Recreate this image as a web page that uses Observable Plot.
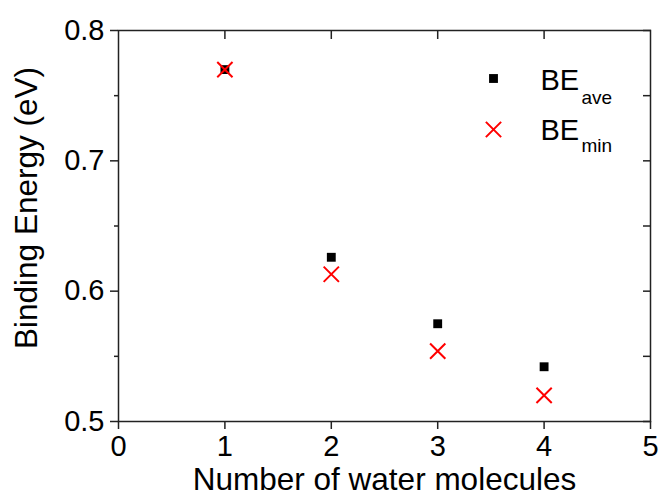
<!DOCTYPE html>
<html>
<head>
<meta charset="utf-8">
<script src="https://cdn.jsdelivr.net/npm/d3@7"></script>
<script src="https://cdn.jsdelivr.net/npm/@observablehq/plot@0.6"></script>
<style>
  html, body { margin: 0; padding: 0; background: #fff; }
  svg { font-family: "Liberation Sans", Arial, sans-serif; }
</style>
</head>
<body>
<div id="chart"></div>
<script>
const molecules = [1, 2, 3, 4];
const beAve = [0.770, 0.626, 0.575, 0.542];
const beMin = [0.770, 0.613, 0.554, 0.520];
const xTicks = [0, 1, 2, 3, 4, 5];
const yMajor = [0.5, 0.6, 0.7, 0.8];
const yMinor = [0.55, 0.65, 0.75];
const yRight = [0.5, 0.55, 0.6, 0.65, 0.7, 0.75, 0.8];
const xTop = [1, 2, 3, 4];
const xTitle = "Number of water molecules";
const yTitle = "Binding Energy (eV)";
const legendMain = ["BE", "BE"];
const legendSub = ["ave", "min"];

const aveData = molecules.map((m, i) => ({x: m, y: beAve[i]}));
const minData = molecules.map((m, i) => ({x: m, y: beMin[i]}));
const axisColor = "#222";

const chart = Plot.plot({
  width: 661,
  height: 495,
  marginLeft: 118,
  marginRight: 11,
  marginTop: 30,
  marginBottom: 74,
  style: {fontFamily: '"Liberation Sans", Arial, sans-serif', color: "#000", background: "#fff", overflow: "visible"},
  x: {domain: [0, 5]},
  y: {domain: [0.5, 0.8]},
  marks: [
    Plot.frame({stroke: axisColor, strokeWidth: 1.5}),
    Plot.axisX({ticks: xTicks, tickSize: 8, tickPadding: 6, fontSize: 29, tickFormat: d => String(d), stroke: axisColor, strokeWidth: 1.5, label: null, fill: "#000"}),
    Plot.axisX({anchor: "top", ticks: xTop, tickSize: -8, text: null, stroke: axisColor, strokeWidth: 1.5, label: null}),
    Plot.axisY({ticks: yMajor, tickSize: 8, tickPadding: 6, fontSize: 29, tickFormat: d => d.toFixed(1), stroke: axisColor, strokeWidth: 1.5, label: null, fill: "#000"}),
    Plot.axisY({ticks: yMinor, tickSize: 4, text: null, stroke: axisColor, strokeWidth: 1.5, label: null}),
    Plot.axisY({anchor: "right", ticks: yRight, tickSize: -8, text: null, stroke: axisColor, strokeWidth: 1.5, label: null}),
    Plot.text([xTitle], {frameAnchor: "bottom", dy: 68, textAnchor: "middle", lineAnchor: "bottom", fontSize: 31.5, fill: "#000"}),
    Plot.text([yTitle], {frameAnchor: "left", dx: -82, dy: -18, rotate: -90, textAnchor: "middle", lineAnchor: "bottom", fontSize: 31.5, fill: "#000"}),
    Plot.dot(aveData, {x: "x", y: "y", symbol: "square", r: 5, fill: "#000", stroke: null}),
    Plot.dot(minData, {x: "x", y: "y", symbol: "times", r: 7, stroke: "#ff0000", strokeWidth: 2}),
    // legend
    Plot.dot([0], {frameAnchor: "top-left", dx: 375, dy: 48, symbol: "square", r: 5, fill: "#000", stroke: null}),
    Plot.dot([0], {frameAnchor: "top-left", dx: 375, dy: 99, symbol: "times", r: 7, stroke: "#ff0000", strokeWidth: 2}),
    Plot.text([legendMain[0]], {frameAnchor: "top-left", dx: 422, dy: 59, textAnchor: "start", lineAnchor: "bottom", fontSize: 29, fill: "#000"}),
    Plot.text([legendSub[0]], {frameAnchor: "top-left", dx: 463, dy: 73, textAnchor: "start", lineAnchor: "bottom", fontSize: 19, fill: "#000"}),
    Plot.text([legendMain[1]], {frameAnchor: "top-left", dx: 422, dy: 109, textAnchor: "start", lineAnchor: "bottom", fontSize: 29, fill: "#000"}),
    Plot.text([legendSub[1]], {frameAnchor: "top-left", dx: 463, dy: 121, textAnchor: "start", lineAnchor: "bottom", fontSize: 19, fill: "#000"})
  ]
});
document.getElementById("chart").appendChild(chart);
</script>
</body>
</html>
